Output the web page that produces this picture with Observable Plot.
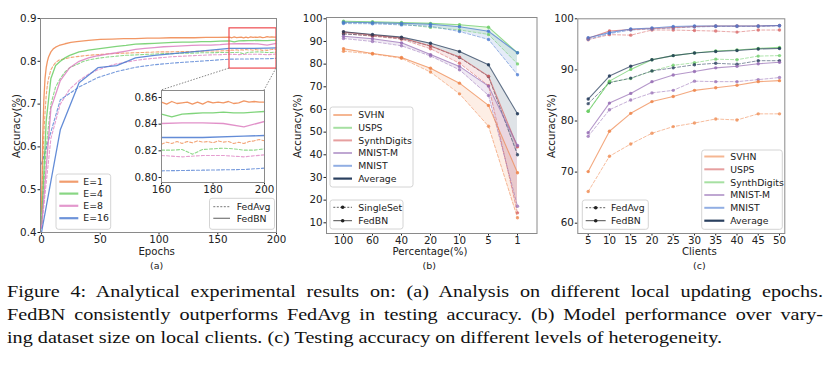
<!DOCTYPE html>
<html><head><meta charset="utf-8">
<script src="https://cdn.jsdelivr.net/npm/d3@7"></script>
<script src="https://cdn.jsdelivr.net/npm/@observablehq/plot@0.6"></script>
<style>
body{margin:0;background:#fff;}
#fig{position:relative;width:832px;height:366px;overflow:hidden;background:#fff;font-family:"DejaVu Sans",sans-serif;}
.cap{position:absolute;left:7px;font-family:"Liberation Serif","Times New Roman",serif;font-size:17px;color:#111;white-space:nowrap;transform-origin:0 50%;line-height:1;}
</style></head><body><div id="fig"></div>
<script>
// ---------------- Panel (a) data ----------------
const epochsE1 = [0,1,2,3,4,5,6,8,10,12,15,20,25,30,40,50,60,70,80,90,100,110,120,130,140,150,160,162,164,166,168,170,172,174,176,178,180,182,184,186,188,190,192,194,196,198,200];
const e1FedBN  = [0.45,0.62,0.71,0.76,0.785,0.80,0.81,0.822,0.829,0.833,0.837,0.841,0.844,0.846,0.849,0.851,0.852,0.853,0.853,0.854,0.854,0.855,0.855,0.855,0.856,0.856,0.8565,0.855,0.857,0.8555,0.856,0.8565,0.855,0.8565,0.855,0.857,0.856,0.8565,0.856,0.857,0.8555,0.856,0.8575,0.8565,0.857,0.8565,0.8565];
const e1FedAvg = [0.42,0.55,0.63,0.68,0.72,0.745,0.76,0.78,0.79,0.797,0.803,0.806,0.809,0.811,0.814,0.816,0.818,0.819,0.82,0.821,0.822,0.822,0.823,0.823,0.824,0.824,0.825,0.8265,0.8255,0.827,0.8255,0.827,0.826,0.8275,0.8265,0.827,0.826,0.8275,0.8265,0.827,0.8255,0.8265,0.8255,0.827,0.8275,0.8285,0.8275];
const epochsE4 = [0,4,8,12,16,20,24,28,32,36,40,48,56,64,72,80,88,96,104,112,120,128,136,144,152,160,164,168,172,176,180,184,188,192,196,200];
const e4FedBN  = [0.42,0.66,0.76,0.79,0.80,0.808,0.814,0.818,0.822,0.824,0.826,0.829,0.832,0.835,0.837,0.84,0.841,0.842,0.843,0.844,0.845,0.845,0.846,0.846,0.847,0.8475,0.8455,0.8475,0.848,0.8485,0.8485,0.849,0.8485,0.8485,0.849,0.8495];
const e4FedAvg = [0.42,0.60,0.70,0.74,0.76,0.775,0.785,0.79,0.795,0.80,0.803,0.807,0.81,0.812,0.814,0.815,0.816,0.817,0.818,0.818,0.819,0.819,0.82,0.82,0.8205,0.8205,0.8205,0.821,0.8175,0.821,0.8215,0.822,0.8215,0.8205,0.8205,0.8215];
const epochsE8 = [0,8,16,24,32,40,48,56,64,72,80,88,96,104,112,120,128,136,144,152,160,168,176,184,192,200];
const e8FedBN  = [0.41,0.69,0.755,0.785,0.80,0.808,0.813,0.817,0.82,0.824,0.828,0.83,0.832,0.834,0.835,0.836,0.837,0.838,0.838,0.839,0.8405,0.841,0.841,0.8405,0.838,0.842];
const e8FedAvg = [0.41,0.62,0.70,0.735,0.755,0.77,0.78,0.788,0.794,0.798,0.802,0.805,0.807,0.809,0.811,0.812,0.813,0.814,0.815,0.8155,0.8165,0.8155,0.8165,0.8165,0.8155,0.817];
const epochsE16 = [0,16,32,48,64,80,96,112,128,144,160,176,192,200];
const e16FedBN  = [0.40,0.64,0.75,0.785,0.79,0.808,0.814,0.818,0.822,0.826,0.830,0.830,0.831,0.8315];
const e16FedAvg = [0.56,0.71,0.74,0.762,0.776,0.786,0.792,0.796,0.799,0.802,0.805,0.8055,0.806,0.807];
const epochTicks = [0,50,100,150,200];
const accTicksA = [0.4,0.5,0.6,0.7,0.8,0.9];
const insetXTicks = [160,180,200];
const insetYTicks = [0.80,0.82,0.84,0.86];

// ---------------- Panel (b) data ----------------
const pctLabels = ["100","60","40","20","10","5","1"];
const svhnFedBN_b   = [86.8,84.7,82.9,78.2,71.6,61.8,32.1];
const svhnSingle_b  = [85.7,84.5,82.6,76.5,66.9,52.6,12.2];
const uspsFedBN_b   = [98.9,98.7,98.4,98.0,97.4,96.3,85.0];
const uspsSingle_b  = [98.3,98.2,97.6,96.2,95.1,93.1,80.1];
const synthFedBN_b  = [94.2,92.8,91.6,88.0,83.1,74.7,43.5];
const synthSingle_b = [93.5,92.3,91.0,86.8,80.4,70.5,14.4];
const mnistmFedBN_b = [92.3,91.2,89.4,84.2,79.0,70.3,44.1];
const mnistmSingle_b= [91.3,90.0,88.1,83.6,77.5,66.2,17.3];
const mnistFedBN_b  = [98.5,98.3,98.0,97.6,96.5,94.5,85.0];
const mnistSingle_b = [97.9,97.8,97.3,96.7,94.4,90.9,75.3];
const avgFedBN_b    = [94.3,93.1,91.9,89.2,85.6,79.7,58.1];
const avgSingle_b   = [93.3,92.6,91.3,88.0,82.9,74.5,40.0];
const accTicksB = [10,20,30,40,50,60,70,80,90,100];

// ---------------- Panel (c) data ----------------
const clients = [5,10,15,20,25,30,35,40,45,50];
const svhnFedBN_c    = [70.1,78.0,81.5,83.8,84.8,86.0,86.5,87.0,87.7,87.9];
const svhnFedAvg_c   = [66.2,73.1,75.5,77.6,78.9,79.6,80.4,80.2,81.4,81.4];
const uspsFedBN_c    = [96.2,97.6,97.9,98.1,98.3,98.5,98.6,98.6,98.6,98.7];
const uspsFedAvg_c   = [95.9,96.9,96.8,97.8,97.8,97.7,97.6,97.4,97.8,97.8];
const synthFedBN_c   = [81.9,87.8,90.1,92.0,92.8,93.3,93.7,93.9,94.2,94.4];
const synthFedAvg_c  = [81.9,87.6,88.3,89.8,90.9,91.4,92.1,92.0,92.7,92.8];
const mnistmFedBN_c  = [77.7,83.5,85.4,87.7,89.0,89.7,90.4,90.7,91.2,91.5];
const mnistmFedAvg_c = [77.0,82.2,84.1,85.5,86.0,87.8,87.7,87.7,88.1,88.5];
const mnistFedBN_c   = [96.3,97.3,98.0,98.2,98.5,98.6,98.6,98.6,98.6,98.7];
const mnistFedAvg_c  = [96.0,97.1,97.8,98.0,98.2,98.4,98.5,98.5,98.5,98.6];
const avgFedBN_c     = [84.3,88.8,90.7,92.0,92.8,93.3,93.6,93.8,94.1,94.2];
const avgFedAvg_c    = [83.4,87.5,88.4,89.8,90.4,91.0,91.3,91.1,91.8,91.8];
const accTicksC = [60,70,80,90,100];

const captionLines = [
  "Figure 4:  Analytical experimental results on:  (a) Analysis on different local updating epochs.",
  "FedBN consistently outperforms FedAvg in testing accuracy.  (b) Model performance over vary-",
  "ing dataset size on local clients. (c) Testing accuracy on different levels of heterogeneity."
];

// ---------------- drawing ----------------
const C = {blue:"#4878d0", orange:"#ee854a", green:"#6acc64", red:"#d65f5f", purple:"#956cb4", pink:"#dc7ec0", navy:"#1f3656"};
const fig = document.getElementById("fig");
const baseStyle = {fontFamily:"DejaVu Sans, sans-serif", fontSize:"10.3px", color:"#222", background:"transparent", overflow:"visible"};
function place(node, left, top){ node.style.position="absolute"; node.style.left=left+"px"; node.style.top=top+"px"; fig.appendChild(node); return node; }

// Panel (a)
const aSeries = [
  {E:"E=1", epochs:epochsE1, fed:e1FedBN, avg:e1FedAvg},
  {E:"E=4", epochs:epochsE4, fed:e4FedBN, avg:e4FedAvg},
  {E:"E=8", epochs:epochsE8, fed:e8FedBN, avg:e8FedAvg},
  {E:"E=16", epochs:epochsE16, fed:e16FedBN, avg:e16FedAvg}
];
const aRows = [];
aSeries.forEach(s => s.epochs.forEach((e,i) => {
  aRows.push({E:s.E, method:"FedBN", epoch:e, acc:s.fed[i]});
  aRows.push({E:s.E, method:"FedAvg", epoch:e, acc:s.avg[i]});
}));
const colorA = {domain:["E=1","E=4","E=8","E=16"], range:[C.orange,C.green,C.pink,C.blue]};
const zoomBox = [{x1:160, x2:200, y1:0.783, y2:0.877}];

const plotA = Plot.plot({
  width:280, height:262, marginLeft:40, marginRight:4, marginTop:18, marginBottom:30,
  style: baseStyle,
  x:{domain:[0,200], range:[41,276], ticks:epochTicks, tickSize:2.5, tickPadding:1, label:null},
  y:{domain:[0.4,0.9], range:[232,18], ticks:accTicksA, tickFormat:d3.format(".1f"), tickSize:2.5, tickPadding:1.5, label:null},
  color: colorA,
  marks:[
    Plot.line(aRows.filter(d=>d.method==="FedAvg"), {x:"epoch", y:"acc", z:"E", stroke:"E", strokeWidth:1.1, strokeDasharray:"3,2", strokeOpacity:0.75}),
    Plot.line(aRows.filter(d=>d.method==="FedBN"), {x:"epoch", y:"acc", z:"E", stroke:"E", strokeWidth:1.3, strokeOpacity:0.85}),
    Plot.rect(zoomBox, {x1:"x1", x2:"x2", y1:"y1", y2:"y2", fill:"none", stroke:"#ee4b50", strokeWidth:1.2}),
    Plot.frame({stroke:"#8a8a8a"})
  ]
});
place(plotA, 0, 0);

// connectors (under inset)
const sxA = plotA.scale("x"), syA = plotA.scale("y");
const insetLeft = 120, insetTop = 85;
const insetOpts = {width:150, height:120, marginLeft:41, marginRight:6, marginTop:5, marginBottom:23};
const conn = d3.create("svg").attr("width",832).attr("height",366).style("pointer-events","none");
const bx1 = sxA.apply(160), bx2 = sxA.apply(200), by = syA.apply(0.783);
const ix1 = insetLeft + insetOpts.marginLeft, ix2 = insetLeft + insetOpts.width - insetOpts.marginRight, iy = insetTop + insetOpts.marginTop;
conn.append("line").attr("x1",bx1).attr("y1",by).attr("x2",ix1).attr("y2",iy).attr("stroke","#777").attr("stroke-width",0.9).attr("stroke-dasharray","1.5,1.5");
conn.append("line").attr("x1",bx2).attr("y1",by).attr("x2",ix2).attr("y2",iy).attr("stroke","#777").attr("stroke-width",0.9).attr("stroke-dasharray","1.5,1.5");
place(conn.node(), 0, 0);

// inset
const insetRows = aRows.filter(d => d.epoch >= 160);
const plotInset = Plot.plot({
  ...insetOpts,
  style: baseStyle,
  x:{domain:[160,200], range:[41,144], ticks:insetXTicks, tickSize:2.5, tickPadding:1, label:null},
  y:{domain:[0.80,0.86], range:[92,12], ticks:insetYTicks, tickFormat:d3.format(".2f"), tickSize:2.5, tickPadding:1.5, label:null},
  color: colorA,
  marks:[
    Plot.frame({fill:"white", stroke:"none"}),
    Plot.line(insetRows.filter(d=>d.method==="FedAvg"), {x:"epoch", y:"acc", z:"E", stroke:"E", strokeWidth:1.1, strokeDasharray:"3,2", strokeOpacity:0.75}),
    Plot.line(insetRows.filter(d=>d.method==="FedBN"), {x:"epoch", y:"acc", z:"E", stroke:"E", strokeWidth:1.3, strokeOpacity:0.85}),
    Plot.frame({stroke:"#8a8a8a"})
  ]
});
place(plotInset, insetLeft, insetTop);

// Panel (b)
const bSets = [
  {name:"SVHN", color:C.orange, fed:svhnFedBN_b, single:svhnSingle_b},
  {name:"USPS", color:C.green, fed:uspsFedBN_b, single:uspsSingle_b},
  {name:"SynthDigits", color:C.red, fed:synthFedBN_b, single:synthSingle_b},
  {name:"MNIST-M", color:C.purple, fed:mnistmFedBN_b, single:mnistmSingle_b},
  {name:"MNIST", color:C.blue, fed:mnistFedBN_b, single:mnistSingle_b},
  {name:"Average", color:C.navy, fed:avgFedBN_b, single:avgSingle_b}
];
const bRows = [];
bSets.forEach(s => pctLabels.forEach((p,i) => bRows.push({set:s.name, pct:p, fed:s.fed[i], single:s.single[i]})));
const colorB = {domain:bSets.map(s=>s.name), range:bSets.map(s=>s.color)};
const plotB = Plot.plot({
  width:280, height:262, marginLeft:56, marginRight:13.5, marginTop:17, marginBottom:29,
  style: baseStyle,
  x:{type:"point", domain:pctLabels, range:[57.3,263.3], tickSize:2.5, tickPadding:1, label:null},
  y:{domain:[10,100], range:[222.3,18.3], ticks:accTicksB, tickSize:2.5, tickPadding:1.5, label:null},
  color: colorB,
  marks:[
    Plot.areaY(bRows, {x:"pct", y1:"single", y2:"fed", z:"set", fill:"set", fillOpacity:0.14}),
    Plot.line(bRows, {x:"pct", y:"single", z:"set", stroke:"set", strokeWidth:0.9, strokeDasharray:"3,2", strokeOpacity:0.6}),
    Plot.line(bRows, {x:"pct", y:"fed", z:"set", stroke:"set", strokeWidth:1.1, strokeOpacity:0.7}),
    Plot.dot(bRows, {x:"pct", y:"single", fill:"set", r:1.7, fillOpacity:0.75}),
    Plot.dot(bRows, {x:"pct", y:"fed", fill:"set", r:1.7, fillOpacity:0.85}),
    Plot.frame({stroke:"#8a8a8a"})
  ]
});
place(plotB, 270, 0);

// Panel (c)
const cSets = [
  {name:"SVHN", color:C.orange, fed:svhnFedBN_c, avg:svhnFedAvg_c},
  {name:"USPS", color:C.red, fed:uspsFedBN_c, avg:uspsFedAvg_c},
  {name:"SynthDigits", color:C.green, fed:synthFedBN_c, avg:synthFedAvg_c},
  {name:"MNIST-M", color:C.purple, fed:mnistmFedBN_c, avg:mnistmFedAvg_c},
  {name:"MNIST", color:C.blue, fed:mnistFedBN_c, avg:mnistFedAvg_c},
  {name:"Average", color:C.navy, fed:avgFedBN_c, avg:avgFedAvg_c}
];
const cRows = [];
cSets.forEach(s => clients.forEach((k,i) => cRows.push({set:s.name, clients:k, fed:s.fed[i], avg:s.avg[i]})));
const colorC = {domain:cSets.map(s=>s.name), range:cSets.map(s=>s.color)};
const plotC = Plot.plot({
  width:287, height:262, marginLeft:32.3, marginRight:47.7, marginTop:18.3, marginBottom:29,
  style: baseStyle,
  x:{domain:[5,50], range:[42.7,234], ticks:clients, tickSize:2.5, tickPadding:1, label:null},
  y:{domain:[60,100], range:[222.7,18.3], ticks:accTicksC, tickSize:2.5, tickPadding:1.5, label:null},
  color: colorC,
  marks:[
    Plot.line(cRows, {x:"clients", y:"avg", z:"set", stroke:"set", strokeWidth:0.9, strokeDasharray:"3,2", strokeOpacity:0.6}),
    Plot.line(cRows, {x:"clients", y:"fed", z:"set", stroke:"set", strokeWidth:1.1, strokeOpacity:0.7}),
    Plot.dot(cRows, {x:"clients", y:"avg", fill:"set", r:1.7, fillOpacity:0.75}),
    Plot.dot(cRows, {x:"clients", y:"fed", fill:"set", r:1.7, fillOpacity:0.85}),
    Plot.frame({stroke:"#8a8a8a"})
  ]
});
place(plotC, 545, 0);

// ---------- overlay: legends ----------
const ov = d3.create("svg").attr("width",832).attr("height",366).style("pointer-events","none")
  .style("font-family","DejaVu Sans, sans-serif").style("font-size","9.3px");
function legend(box, lineX1, lineX2, textX, entries){
  ov.append("rect").attr("x",box[0]).attr("y",box[1]).attr("width",box[2]-box[0]).attr("height",box[3]-box[1])
    .attr("rx",2.5).attr("fill","white").attr("fill-opacity",0.85).attr("stroke","#cfcfcf").attr("stroke-width",0.9);
  entries.forEach(e => {
    ov.append("line").attr("x1",lineX1).attr("x2",lineX2).attr("y1",e.y).attr("y2",e.y)
      .attr("stroke",e.color).attr("stroke-width",e.w||2).attr("stroke-opacity",e.op||0.8)
      .attr("stroke-dasharray",e.dash||null);
    if (e.marker) ov.append("circle").attr("cx",(lineX1+lineX2)/2).attr("cy",e.y).attr("r",1.8).attr("fill",e.color);
    ov.append("text").attr("x",textX).attr("y",e.y).attr("dy","0.35em").attr("fill","#222").text(e.label);
  });
}
legend([56,174,110.7,229.3], 59.3, 78.3, 83.3, [
  {label:"E=1", color:C.orange, y:181.7, w:2.2},
  {label:"E=4", color:C.green, y:193.6, w:2.2},
  {label:"E=8", color:C.pink, y:205.8, w:2.2},
  {label:"E=16", color:C.blue, y:218.2, w:2.2}
]);
legend([209.5,198.3,274.5,229.3], 213.3, 230, 236.7, [
  {label:"FedAvg", color:"#555", y:206.7, w:1, dash:"2,1.5"},
  {label:"FedBN", color:"#555", y:218.3, w:1.2}
]);
legend([330,107,413,187], 333.3, 352, 358.3, [
  {label:"SVHN", color:C.orange, y:115, op:0.6},
  {label:"USPS", color:C.green, y:127.8, op:0.6},
  {label:"SynthDigits", color:C.red, y:140.4, op:0.6},
  {label:"MNIST-M", color:C.purple, y:153, op:0.6},
  {label:"MNIST", color:C.blue, y:165.8, op:0.6},
  {label:"Average", color:C.navy, y:178.6, op:0.95, w:2.2}
]);
legend([330,200,403,229], 333.3, 352, 358.3, [
  {label:"SingleSet", color:"#222", y:207.3, w:0.9, dash:"2,1.5", marker:true},
  {label:"FedBN", color:"#222", y:220.7, w:1, marker:true}
]);
legend([701.7,150,782.3,229.3], 704.3, 724.3, 730.3, [
  {label:"SVHN", color:C.orange, y:156.5, op:0.6},
  {label:"USPS", color:C.red, y:169.3, op:0.6},
  {label:"SynthDigits", color:C.green, y:182.3, op:0.6},
  {label:"MNIST-M", color:C.purple, y:195, op:0.6},
  {label:"MNIST", color:C.blue, y:207.8, op:0.6},
  {label:"Average", color:C.navy, y:220.7, op:0.95, w:2.2}
]);
legend([582.3,200,648.3,229.3], 585.7, 605.7, 611, [
  {label:"FedAvg", color:"#222", y:207.7, w:0.9, dash:"2,1.5", marker:true},
  {label:"FedBN", color:"#222", y:220.7, w:1, marker:true}
]);
place(ov.node(), 0, 0);

// ---------- axis titles and sub-labels ----------
function addText(txt, x, y, rotate, size){
  const d = document.createElement("div");
  d.textContent = txt;
  d.style.cssText = `position:absolute;left:${x}px;top:${y}px;transform:translate(-50%,-50%)${rotate?" rotate(-90deg)":""};font-size:${size||10}px;font-family:"DejaVu Sans",sans-serif;color:#222;white-space:nowrap;line-height:1;`;
  fig.appendChild(d);
}
addText("Accuracy(%)", 16.7, 125.7, true, 10.2);
addText("Accuracy(%)", 298.3, 125.7, true, 10.2);
addText("Accuracy(%)", 551.7, 125.7, true, 10.2);
addText("Epochs", 156.7, 252.2, false, 10.2);
addText("Percentage(%)", 430, 252.2, false, 10.2);
addText("Clients", 699.3, 252.2, false, 10.2);
addText("(a)", 156.7, 265.5, false, 9.5);
addText("(b)", 429.3, 265.5, false, 9.5);
addText("(c)", 699.3, 265.5, false, 9.5);

// ---------- caption ----------
const capY = [291, 314, 337.5];
const meas = document.createElement("span");
meas.className = "cap"; meas.style.visibility = "hidden"; meas.textContent = captionLines[2];
fig.appendChild(meas);
const natural = meas.getBoundingClientRect().width;
fig.removeChild(meas);
const sc = 715 / natural;
captionLines.forEach((t,i) => {
  const d = document.createElement("div");
  d.className = "cap";
  d.textContent = t;
  d.style.top = (capY[i] - 8.5) + "px";
  d.style.transform = `scaleX(${sc})`;
  if (i < 2) { d.style.width = (816/sc) + "px"; d.style.textAlign = "justify"; d.style.textAlignLast = "justify"; d.style.whiteSpace = "normal"; }
  fig.appendChild(d);
});
</script></body></html>
